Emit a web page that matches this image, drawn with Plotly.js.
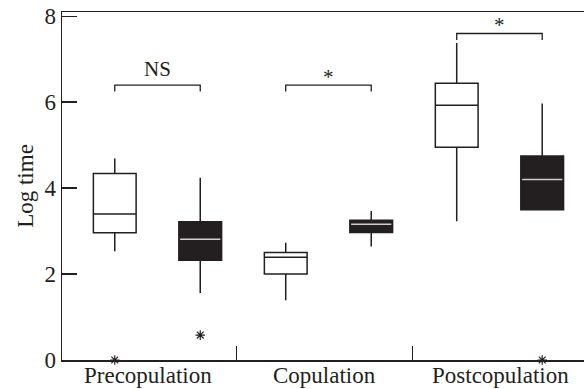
<!DOCTYPE html>
<html>
<head>
<meta charset="utf-8">
<script src="https://cdn.plot.ly/plotly-3.0.1.min.js"></script>
<style>html,body{margin:0;padding:0;background:#fff;}#chart{width:584px;height:389px;}</style>
</head>
<body>
<div id="chart"></div>
<script>
// ---- data ----
const phases = ["Precopulation", "Copulation", "Postcopulation"];
const treatments = ["open", "filled"];
// per phase: [open box, filled box]
const upperWhisker = [[4.69, 4.24], [2.73, 3.47], [7.38, 5.97]];
const q3Values     = [[4.34, 3.22], [2.50, 3.25], [6.44, 4.75]];
const medians      = [[3.40, 2.81], [2.39, 3.16], [5.93, 4.20]];
const q1Values     = [[2.96, 2.32], [2.00, 2.97], [4.95, 3.50]];
const lowerWhisker = [[2.53, 1.56], [1.39, 2.64], [3.23, 3.49]];
// outliers: phase index, treatment index, value
const outlierPhase = [0, 0, 2];
const outlierTreat = [0, 1, 1];
const outlierValue = [0.0, 0.58, 0.0];
// significance brackets per phase
const sigLabels = ["NS", "*", "*"];
const sigHeight = [6.40, 6.40, 7.60];
const yTicks = [0, 2, 4, 6, 8];

// ---- layout constants ----
const INK = "#231f20";
const FONT = "Liberation Serif, Times New Roman, serif";
const GROUP_STEP = 2.06;      // group spacing in box units
const GROUP_CENTER0 = 1.394;  // centre of the first group
const boxX = (p, t) => 1 + 2 * p + t;
const groupCenters = phases.map((_, p) => GROUP_CENTER0 + GROUP_STEP * p);
const dividers = phases.slice(1).map((_, p) => GROUP_CENTER0 + GROUP_STEP * p + GROUP_STEP / 2);

const traces = [];
phases.forEach((ph, p) => {
  treatments.forEach((tr, t) => {
    const filled = t === 1;
    traces.push({
      type: "box", x: [boxX(p, t)],
      q1: [q1Values[p][t]], median: [medians[p][t]], q3: [q3Values[p][t]],
      lowerfence: [lowerWhisker[p][t]], upperfence: [upperWhisker[p][t]],
      width: 0.5, whiskerwidth: 0, boxpoints: false,
      fillcolor: filled ? INK : "#ffffff",
      line: {color: INK, width: 1.5},
      hoverinfo: "skip", showlegend: false
    });
    if (filled) {
      // light median line drawn over the dark box
      traces.push({
        type: "box", x: [boxX(p, t)],
        q1: [medians[p][t]], median: [medians[p][t]], q3: [medians[p][t]],
        lowerfence: [medians[p][t]], upperfence: [medians[p][t]],
        width: 0.47, whiskerwidth: 0, boxpoints: false,
        fillcolor: "rgba(0,0,0,0)",
        line: {color: "#cfcfcf", width: 1.5},
        hoverinfo: "skip", showlegend: false
      });
    }
  });
  // bracket
  const leg = 0.15;
  const xa = boxX(p, 0), xb = boxX(p, 1);
  traces.push({
    type: "scatter", mode: "lines",
    x: [xa, xa, xb, xb],
    y: [sigHeight[p] - leg, sigHeight[p], sigHeight[p], sigHeight[p] - leg],
    line: {color: INK, width: 1.3}, hoverinfo: "skip", showlegend: false
  });
});

traces.push({
  type: "scatter", mode: "markers",
  x: outlierPhase.map((p, i) => boxX(p, outlierTreat[i])),
  y: outlierValue,
  marker: {symbol: "asterisk-open", size: 8, color: INK, line: {color: INK, width: 1.2}},
  cliponaxis: false, hoverinfo: "skip", showlegend: false
});

const annotations = phases.map((ph, p) => ({
  x: (boxX(p, 0) + boxX(p, 1)) / 2, y: sigHeight[p],
  xref: "x", yref: "y", text: sigLabels[p], showarrow: false,
  yanchor: "bottom", yshift: sigLabels[p] === "NS" ? 2 : -6,
  font: {family: FONT, size: sigLabels[p] === "NS" ? 21 : 21, color: INK}
}));
// category labels under the axis
phases.forEach((ph, p) => {
  annotations.push({
    x: groupCenters[p], y: 0, xref: "x", yref: "paper",
    text: ph, showarrow: false, yanchor: "top", yshift: -1,
    font: {family: FONT, size: 23, color: INK}
  });
});

const layout = {
  width: 584, height: 389,
  margin: {l: 62, r: 0, t: 12, b: 29},
  paper_bgcolor: "#ffffff", plot_bgcolor: "#ffffff",
  boxmode: "overlay", showlegend: false,
  font: {family: FONT, color: INK, size: 22},
  xaxis: {
    range: [0.383, 6.489], showgrid: false, zeroline: false,
    showline: true, linecolor: INK, linewidth: 1.5, mirror: true,
    tickmode: "array", tickvals: groupCenters, ticktext: phases.map(() => ""), ticks: "",
    minor: {tickmode: "array", tickvals: dividers, ticks: "inside", ticklen: 14, tickwidth: 1.5, tickcolor: INK, showgrid: false}
  },
  yaxis: {
    range: [0, 8.1], showgrid: false, zeroline: false,
    showline: true, linecolor: INK, linewidth: 1.5, mirror: false,
    tickmode: "array", tickvals: yTicks, ticks: "inside", ticklen: 15, tickwidth: 1.5, tickcolor: INK,
    tickfont: {family: FONT, size: 23, color: INK},
    title: {text: "Log time", font: {family: FONT, size: 23, color: INK}, standoff: 4}
  },
  annotations: annotations
};

Plotly.newPlot("chart", traces, layout, {staticPlot: true, displayModeBar: false});
</script>
</body>
</html>
